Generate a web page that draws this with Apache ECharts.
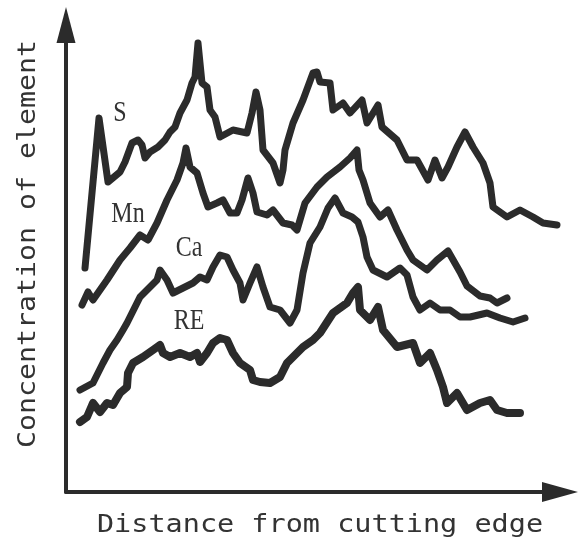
<!DOCTYPE html>
<html>
<head>
<meta charset="utf-8">
<script src="https://cdn.jsdelivr.net/npm/echarts@6/dist/echarts.min.js"></script>
<style>html,body{margin:0;padding:0;background:#fff}#c{width:579px;height:545px}</style>
</head>
<body>
<div id="c"></div>
<script>
// [distance, concentration] in arbitrary units
const sData = [[19,224],[33,374],[42,310],[54,320],[59,330],[66,349],[72,352],[76,347],[79,334],[84,340],[92,345],[99,352],[104,360],[109,365],[114,379],[121,392],[126,409],[129,415],[132,449],[136,409],[141,405],[144,382],[149,375],[154,355],[167,362],[181,359],[186,379],[190,400],[194,382],[197,342],[207,329],[214,309],[217,322],[219,342],[227,369],[237,392],[247,419],[251,420],[254,410],[264,409],[267,382],[277,389],[284,379],[296,392],[301,369],[312,387],[316,365],[331,352],[341,332],[351,332],[362,312],[369,332],[376,314],[382,325],[391,345],[399,360],[407,345],[417,329],[424,309],[427,285],[441,275],[454,282],[467,275],[477,269],[491,267]];
const mnData = [[16,187],[22,200],[27,192],[41,212],[54,232],[64,244],[74,257],[82,252],[91,269],[101,292],[111,312],[117,329],[120,344],[124,325],[131,319],[137,299],[142,285],[151,289],[157,292],[164,279],[171,279],[176,292],[182,314],[187,299],[191,280],[201,277],[207,282],[217,269],[226,267],[231,262],[239,289],[251,305],[261,315],[274,325],[284,334],[291,342],[293,322],[297,312],[304,289],[314,275],[322,282],[331,262],[341,242],[347,232],[361,222],[371,232],[382,241],[394,220],[401,206],[414,196],[424,194],[431,189],[441,194]];
const caData = [[14,102],[27,109],[37,129],[44,142],[51,152],[57,162],[61,169],[66,179],[74,195],[81,202],[91,212],[94,222],[101,212],[107,199],[117,204],[127,209],[134,215],[141,212],[147,225],[154,237],[161,235],[167,222],[174,209],[177,192],[184,209],[191,225],[197,205],[204,185],[214,182],[224,169],[231,182],[237,219],[244,249],[254,265],[262,284],[269,294],[277,279],[286,275],[292,270],[297,255],[301,235],[307,222],[321,215],[334,224],[341,217],[347,195],[354,182],[364,189],[374,182],[384,182],[394,175],[404,175],[421,179],[434,174],[447,170],[459,174]];
const reData = [[14,70],[21,75],[27,89],[34,80],[41,89],[47,87],[54,99],[61,105],[62,119],[67,129],[77,135],[87,142],[94,147],[97,139],[104,135],[114,139],[124,135],[131,139],[134,130],[141,139],[147,149],[154,154],[161,152],[167,139],[174,129],[184,122],[187,112],[194,110],[204,109],[214,115],[221,129],[227,135],[237,145],[247,152],[254,159],[267,179],[281,189],[287,199],[292,205],[294,182],[304,172],[312,185],[317,162],[331,145],[347,149],[354,129],[364,139],[371,122],[377,105],[381,89],[391,99],[401,82],[414,89],[424,92],[431,82],[441,79],[454,79]];
const seriesNames = ['S','Mn','Ca','RE'];
const xTitle = 'Distance from cutting edge';
const yTitle = 'Concentration of element';

const ink = '#2b2b2b';
const mono = "'DejaVu Sans Mono', 'Liberation Mono', monospace";
const serif = "'Liberation Serif', 'DejaVu Serif', serif";
const chart = echarts.init(document.getElementById('c'), null, {renderer:'canvas'});
const lineSeries = (name, data, w) => ({
  name, type:'line', data, symbol:'none', smooth:false, silent:true,
  lineStyle:{color:ink, width:w, join:'round', cap:'round'}
});
const label = (text, x, y) => ({
  type:'text', x, y, silent:true, scaleX:0.8,
  style:{text, fill:'#333', font:"30px " + serif, textAlign:'center', textVerticalAlign:'middle'}
});
chart.setOption({
  animation:false,
  backgroundColor:'#fff',
  grid:{left:66, right:19, top:25, bottom:53},
  xAxis:{type:'value', min:0, max:494,
    axisLine:{show:true, lineStyle:{color:ink, width:4}, symbol:['none','triangle'], symbolSize:[20,36]},
    axisTick:{show:false}, axisLabel:{show:false}, splitLine:{show:false}},
  yAxis:{type:'value', min:0, max:467,
    axisLine:{show:true, lineStyle:{color:ink, width:4}, symbol:['none','triangle'], symbolSize:[19,36]},
    axisTick:{show:false}, axisLabel:{show:false}, splitLine:{show:false}},
  series:[lineSeries(seriesNames[0], sData, 7), lineSeries(seriesNames[1], mnData, 7),
          lineSeries(seriesNames[2], caData, 7), lineSeries(seriesNames[3], reData, 8)],
  graphic:[
    label(seriesNames[0], 120, 113),
    label(seriesNames[1], 128, 214),
    label(seriesNames[2], 189, 248),
    label(seriesNames[3], 189, 321),
    {type:'text', x:320, y:525, silent:true, scaleX:1.14,
      style:{text:xTitle, fill:'#333', font:"25px " + mono, textAlign:'center', textVerticalAlign:'middle'}},
    {type:'text', x:28, y:244, rotation:Math.PI/2, silent:true, scaleX:1.13,
      style:{text:yTitle, fill:'#333', font:"25px " + mono, textAlign:'center', textVerticalAlign:'middle'}}
  ]
});
</script>
</body>
</html>
